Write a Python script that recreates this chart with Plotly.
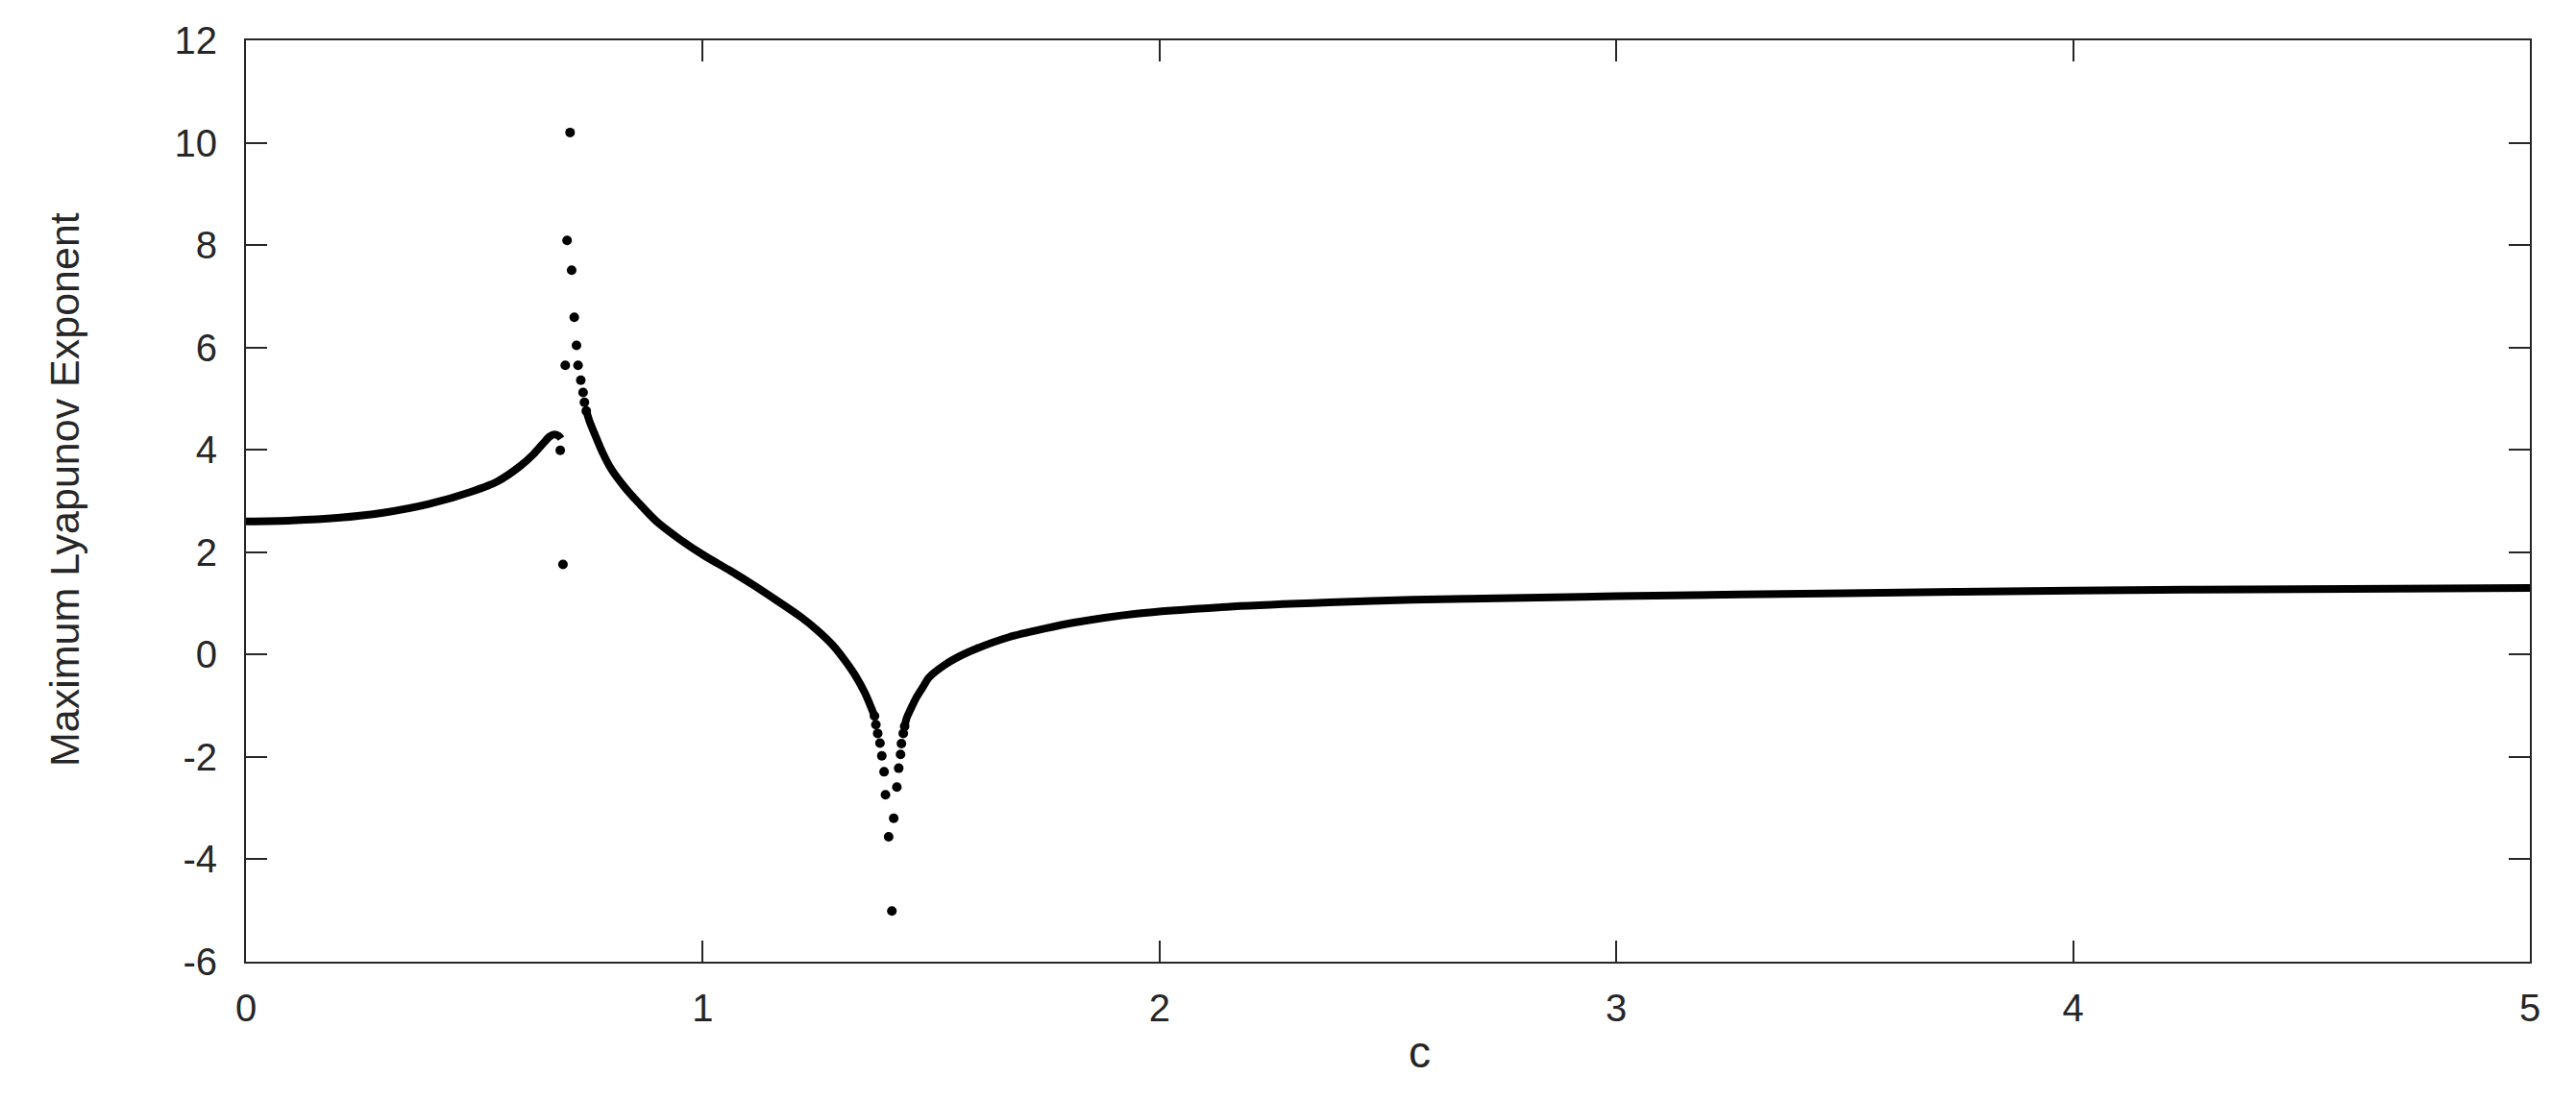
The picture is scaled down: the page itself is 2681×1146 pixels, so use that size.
import plotly.graph_objects as go

# ---- data ----
# continuous left branch (c from 0 up to the first peak)
left_c = [0.0, 0.1, 0.2, 0.3, 0.4, 0.5, 0.55, 0.6, 0.63, 0.65, 0.665, 0.675, 0.685, 0.69]
left_le = [2.60, 2.62, 2.67, 2.77, 2.94, 3.20, 3.38, 3.68, 3.92, 4.12, 4.26, 4.30, 4.27, 4.22]

# continuous descending branch (after the spike, down to the dip)
mid_c = [0.745, 0.752, 0.762, 0.780, 0.800, 0.829, 0.860, 0.899, 0.95, 1.004, 1.06, 1.109,
         1.16, 1.214, 1.25, 1.285, 1.31, 1.334, 1.355, 1.369, 1.376]
mid_le = [4.76, 4.56, 4.34, 3.96, 3.62, 3.27, 2.96, 2.60, 2.25, 1.93, 1.64, 1.37,
          1.07, 0.74, 0.48, 0.18, -0.10, -0.41, -0.75, -1.04, -1.20]

# continuous rising branch (after the dip, up to c = 5)
right_c = [1.442, 1.446, 1.456, 1.467, 1.481, 1.495, 1.530, 1.565, 1.600, 1.670, 1.75, 1.810,
           1.950, 2.161, 2.371, 2.554, 2.8, 3.0, 3.5, 4.0, 4.5, 5.0]
right_le = [-1.40, -1.25, -1.05, -0.85, -0.65, -0.45, -0.20, -0.02, 0.12, 0.34, 0.51, 0.62,
            0.80, 0.94, 1.02, 1.07, 1.11, 1.14, 1.20, 1.25, 1.28, 1.30]

# isolated points around the spike
spike_c = [0.688, 0.694, 0.699, 0.703, 0.7095, 0.713, 0.7187, 0.7236, 0.727, 0.733,
           0.738, 0.741, 0.745]
spike_le = [3.99, 1.76, 5.65, 8.09, 10.20, 7.51, 6.59, 6.04, 5.65, 5.36,
            5.12, 4.93, 4.76]

# isolated points around the dip
dip_c = [1.376, 1.379, 1.383, 1.388, 1.392, 1.397, 1.400, 1.407, 1.414,
         1.418, 1.425, 1.429, 1.433, 1.435, 1.439, 1.442]
dip_le = [-1.20, -1.37, -1.54, -1.73, -1.98, -2.29, -2.74, -3.56, -5.01,
          -3.20, -2.59, -2.22, -1.95, -1.74, -1.54, -1.40]

x_ticks = [0, 1, 2, 3, 4, 5]
y_ticks = [-6, -4, -2, 0, 2, 4, 6, 8, 10, 12]

INK = "black"
AXC = "#262626"
FONT = "Liberation Sans, Arial, Helvetica, sans-serif"

fig = go.Figure()
for cx, cy in [(left_c, left_le), (mid_c, mid_le), (right_c, right_le)]:
    fig.add_trace(go.Scatter(x=cx, y=cy, mode="lines",
                             line=dict(color=INK, width=8, shape="spline", smoothing=0.8),
                             showlegend=False, hoverinfo="skip"))
for cx, cy in [(spike_c, spike_le), (dip_c, dip_le)]:
    fig.add_trace(go.Scatter(x=cx, y=cy, mode="markers",
                             marker=dict(color=INK, size=10, line=dict(width=0)),
                             showlegend=False, hoverinfo="skip"))

axis_common = dict(showline=True, linecolor=AXC, linewidth=2, mirror="allticks",
                   ticks="inside", ticklen=22, tickwidth=1.5, tickcolor=AXC,
                   showgrid=False, zeroline=False,
                   tickfont=dict(family=FONT, size=40, color=AXC))

fig.update_xaxes(range=[0, 5], tickvals=x_ticks, ticktext=[str(v) for v in x_ticks],
                 ticklabelstandoff=12, **axis_common)
fig.update_yaxes(range=[-6, 12], tickvals=y_ticks, ticktext=[str(v) for v in y_ticks],
                 ticklabelstandoff=20, **axis_common)

fig.add_annotation(text="Maximum Lyapunov Exponent", xref="paper", yref="paper",
                   x=-0.0795, y=0.512, xanchor="center", yanchor="middle",
                   textangle=-90, showarrow=False,
                   font=dict(family=FONT, size=43, color=AXC))
fig.add_annotation(text="c", xref="x", yref="paper",
                   x=2.57, y=-0.098, xanchor="center", yanchor="middle",
                   showarrow=False, font=dict(family=FONT, size=46, color=AXC))

fig.update_layout(width=2673, height=1138, autosize=False,
                  margin=dict(l=248, r=48, t=32, b=145, pad=0),
                  paper_bgcolor="white", plot_bgcolor="white")

fig.write_html("out.html")
